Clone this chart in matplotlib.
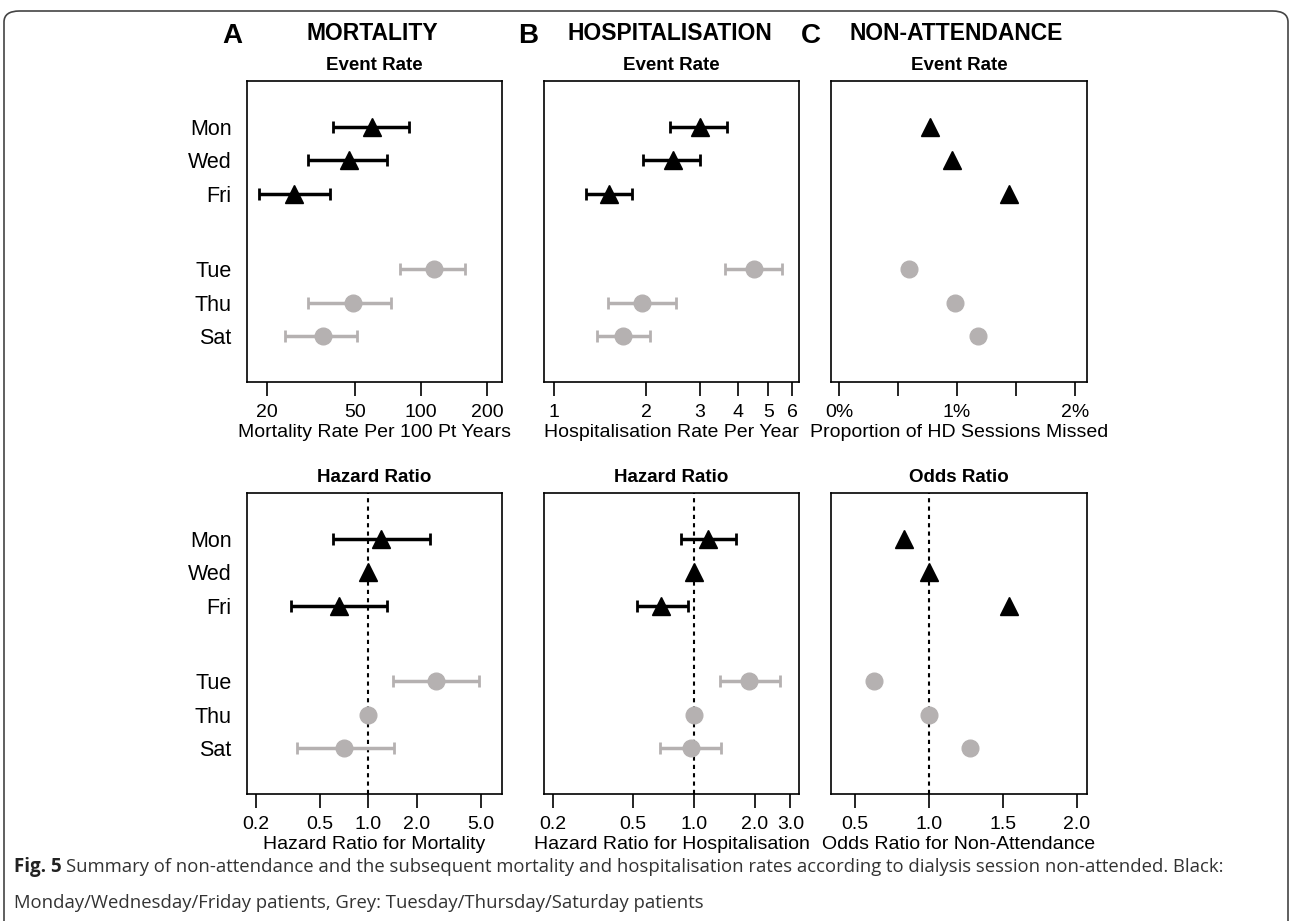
import matplotlib
matplotlib.use("Agg")
import matplotlib.pyplot as plt
from matplotlib.patches import FancyBboxPatch
from matplotlib.ticker import FixedLocator, NullLocator, FixedFormatter

plt.rcParams['font.family'] = ['Liberation Sans', 'DejaVu Sans']

days = ["Mon", "Wed", "Fri", "Tue", "Thu", "Sat"]
ypos = [0, 1, 2, 4.25, 5.25, 6.25]
is_black = [True, True, True, False, False, False]

# top row: event rates
mort_rate = [60, 47, 26.5, 115, 49, 36]
mort_lo = [40, 30.5, 18.3, 80.5, 30.8, 24]
mort_hi = [88, 70, 38.5, 158, 73, 51]

hosp_rate = [3.0, 2.45, 1.52, 4.5, 1.94, 1.68]
hosp_lo = [2.4, 1.96, 1.27, 3.62, 1.5, 1.38]
hosp_hi = [3.68, 3.0, 1.8, 5.55, 2.5, 2.06]

miss_pct = [0.77, 0.96, 1.44, 0.59, 0.98, 1.18]

# bottom row: ratios
mort_hr = [1.2, 1.0, 0.66, 2.64, 1.0, 0.71]
mort_hr_lo = [0.6, None, 0.33, 1.43, None, 0.36]
mort_hr_hi = [2.43, None, 1.31, 4.9, None, 1.45]

hosp_hr = [1.17, 1.0, 0.69, 1.87, 1.0, 0.97]
hosp_hr_lo = [0.86, None, 0.52, 1.35, None, 0.68]
hosp_hr_hi = [1.61, None, 0.93, 2.66, None, 1.36]

odds = [0.83, 1.0, 1.54, 0.63, 1.0, 1.28]

BLACK = "black"
GREY = "#b5b1b1"

fig = plt.figure(figsize=(12.92, 9.21), dpi=100)

lefts = [247 / 1292, 544 / 1292, 831 / 1292]
widths = [255 / 1292, 255 / 1292, 256 / 1292]
top_b, bot_b, h = 1 - 382 / 921, 1 - 794 / 921, 301 / 921


def panel(ax_rect, vals, lo, hi, log, xlim, ticks, labels, xlabel, title,
          minor=None, ref=None, show_days=False):
    ax = fig.add_axes(ax_rect)
    if log:
        ax.set_xscale("log")
    if ref is not None:
        ax.axvline(ref, color="black", ls=(0, (2, 2)), lw=1.5, zorder=1)
    for i in range(len(vals)):
        col = BLACK if is_black[i] else GREY
        mk = "^" if is_black[i] else "o"
        ms = 13 if is_black[i] else 12
        if lo is not None and lo[i] is not None:
            ax.errorbar(vals[i], ypos[i], xerr=[[vals[i] - lo[i]], [hi[i] - vals[i]]],
                        fmt="none", ecolor=col, elinewidth=2.5, capsize=4,
                        capthick=2, zorder=2)
        ax.plot(vals[i], ypos[i], marker=mk, color=col, ms=ms, ls="none", zorder=3)
    ax.set_xlim(*xlim)
    ax.set_ylim(7.62, -1.37)
    ax.xaxis.set_major_locator(FixedLocator(ticks + (minor or [])))
    ax.xaxis.set_major_formatter(FixedFormatter(labels + [""] * len(minor or [])))
    ax.xaxis.set_minor_locator(NullLocator())
    ax.tick_params(axis="x", length=10, width=1.2, labelsize=14, pad=6)
    if show_days:
        ax.set_yticks(ypos)
        ax.set_yticklabels(days, fontsize=15.5)
        ax.tick_params(axis="y", length=0, pad=11)
    else:
        ax.set_yticks([])
    for s in ax.spines.values():
        s.set_linewidth(1.2)
    ax.set_xlabel(xlabel, fontsize=14, labelpad=2)
    ax.set_title(title, fontsize=13.5, fontweight="bold", pad=8)
    return ax


panel([lefts[0], top_b, widths[0], h], mort_rate, mort_lo, mort_hi, True, (16.2, 233),
      [20, 50, 100, 200], ["20", "50", "100", "200"],
      "Mortality Rate Per 100 Pt Years", "Event Rate", show_days=True)
panel([lefts[1], top_b, widths[1], h], hosp_rate, hosp_lo, hosp_hi, True, (0.93, 6.3),
      [1, 2, 3, 4, 5, 6], ["1", "2", "3", "4", "5", "6"],
      "Hospitalisation Rate Per Year", "Event Rate")
panel([lefts[2], top_b, widths[2], h], miss_pct, None, None, False, (-0.068, 2.1),
      [0, 1, 2], ["0%", "1%", "2%"],
      "Proportion of HD Sessions Missed", "Event Rate", minor=[0.5, 1.5])

panel([lefts[0], bot_b, widths[0], h], mort_hr, mort_hr_lo, mort_hr_hi, True, (0.176, 6.77),
      [0.2, 0.5, 1.0, 2.0, 5.0], ["0.2", "0.5", "1.0", "2.0", "5.0"],
      "Hazard Ratio for Mortality", "Hazard Ratio", ref=1.0, show_days=True)
panel([lefts[1], bot_b, widths[1], h], hosp_hr, hosp_hr_lo, hosp_hr_hi, True, (0.181, 3.31),
      [0.2, 0.5, 1.0, 2.0, 3.0], ["0.2", "0.5", "1.0", "2.0", "3.0"],
      "Hazard Ratio for Hospitalisation", "Hazard Ratio", ref=1.0)
panel([lefts[2], bot_b, widths[2], h], odds, None, None, False, (0.34, 2.07),
      [0.5, 1.0, 1.5, 2.0], ["0.5", "1.0", "1.5", "2.0"],
      "Odds Ratio for Non-Attendance", "Odds Ratio", ref=1.0)

# column headings
heads = [("A", 232, "MORTALITY", 372), ("B", 528, "HOSPITALISATION", 670),
         ("C", 811, "NON-ATTENDANCE", 956)]
for letter, lx, name, nx in heads:
    fig.text(lx / 1292, 1 - 36 / 921, letter, fontsize=20, fontweight="bold",
             ha="center", va="center")
    fig.text(nx / 1292, 1 - 34 / 921, name, fontsize=16.5, fontweight="bold",
             ha="center", va="center")

# caption
cap_font = ['Open Sans', 'DejaVu Sans']
fig.text(14 / 1292, 1 - 867 / 921, "Fig. 5", fontsize=13.5, fontweight="bold",
         family=cap_font, va="center", color="#222222")
fig.text(66 / 1292, 1 - 867 / 921,
         "Summary of non-attendance and the subsequent mortality and hospitalisation rates "
         "according to dialysis session non-attended. Black:",
         fontsize=13.3, family=cap_font, va="center", color="#333333")
fig.text(14 / 1292, 1 - 903 / 921,
         "Monday/Wednesday/Friday patients, Grey: Tuesday/Thursday/Saturday patients",
         fontsize=13.3, family=cap_font, va="center", color="#333333")

border = FancyBboxPatch((4 / 1292, -20 / 921), 1284 / 1292, 930 / 921,
                        boxstyle="round,pad=0,rounding_size=0.012",
                        transform=fig.transFigure, fill=False, lw=1.2,
                        edgecolor="#444444")
fig.patches.append(border)

fig.savefig("out.png", dpi=100)
